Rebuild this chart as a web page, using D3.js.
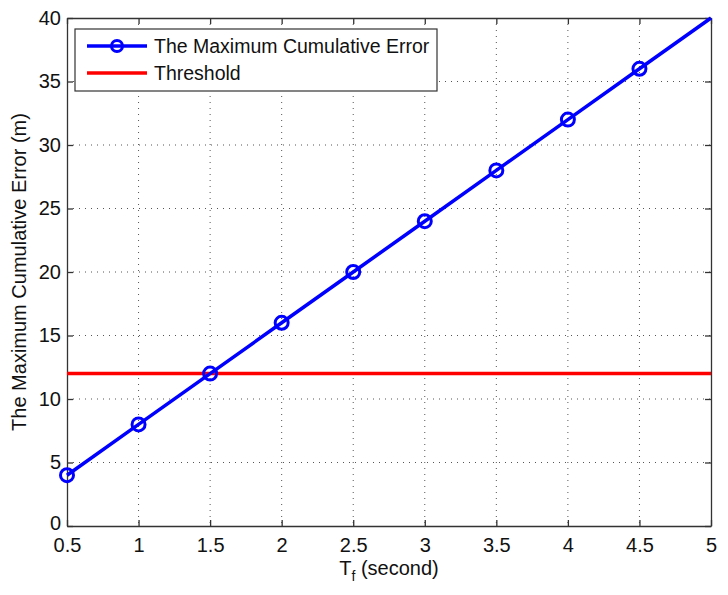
<!DOCTYPE html>
<html>
<head>
<meta charset="utf-8">
<script src="https://cdn.jsdelivr.net/npm/d3@7"></script>
<style>
body { margin: 0; background: #fff; }
text { font-family: "Liberation Sans", Arial, sans-serif; }
</style>
</head>
<body>
<script>
// data
const tf = [0.5, 1, 1.5, 2, 2.5, 3, 3.5, 4, 4.5, 5];
const maxError = [4, 8, 12, 16, 20, 24, 28, 32, 36, 40];
const threshold = 12;
const xTicks = [0.5, 1, 1.5, 2, 2.5, 3, 3.5, 4, 4.5, 5];
const yTicks = [0, 5, 10, 15, 20, 25, 30, 35, 40];
const seriesNames = ["The Maximum Cumulative Error", "Threshold"];

const w = 728, h = 595;
const margin = {top: 18, right: 17, bottom: 69, left: 67};
const width = w - margin.left - margin.right,
    height = h - margin.top - margin.bottom;
const fs = 20;

const svg = d3.select("body").append("svg")
    .attr("width", w)
    .attr("height", h);

const g = svg.append("g")
    .attr("transform", "translate(" + margin.left + "," + margin.top + ")");

const x = d3.scaleLinear().domain([0.5, 5]).range([0, width]);
const y = d3.scaleLinear().domain([0, 40]).range([height, 0]);

// grid
g.append("g").selectAll("line")
    .data(xTicks.slice(1, -1))
    .enter().append("line")
    .attr("x1", d => x(d)).attr("x2", d => x(d))
    .attr("y1", 0).attr("y2", height)
    .attr("stroke", "#555").attr("stroke-width", 1)
    .attr("stroke-dasharray", "1,5");

g.append("g").selectAll("line")
    .data(yTicks.slice(1, -1))
    .enter().append("line")
    .attr("y1", d => y(d)).attr("y2", d => y(d))
    .attr("x1", 0).attr("x2", width)
    .attr("stroke", "#555").attr("stroke-width", 1)
    .attr("stroke-dasharray", "1,5");

// axes (matlab style, ticks inward, all four sides)
function styleAxis(sel) {
    sel.select(".domain").attr("stroke", "#333").attr("stroke-width", 1.3);
    sel.selectAll(".tick line").attr("stroke", "#333").attr("stroke-width", 1.3);
    sel.selectAll("text").attr("font-size", fs).attr("fill", "#111")
        .attr("font-family", "Liberation Sans, Arial, sans-serif");
}

g.append("g")
    .attr("transform", "translate(0," + height + ")")
    .call(d3.axisBottom(x).tickValues(xTicks).tickFormat(d3.format("")).tickSizeInner(-6).tickSizeOuter(0).tickPadding(12))
    .call(styleAxis);

g.append("g")
    .call(d3.axisLeft(y).tickValues(yTicks).tickSizeInner(-6).tickSizeOuter(0).tickPadding(6))
    .call(styleAxis)
    .selectAll(".tick text")
    .attr("y", d => d === 0 ? -3 : 0);

g.append("g")
    .call(d3.axisTop(x).tickValues(xTicks).tickFormat("").tickSizeInner(-6).tickSizeOuter(0))
    .call(styleAxis);

g.append("g")
    .attr("transform", "translate(" + width + ",0)")
    .call(d3.axisRight(y).tickValues(yTicks).tickFormat("").tickSizeInner(-6).tickSizeOuter(0))
    .call(styleAxis);

// threshold
g.append("line")
    .attr("x1", x(0.5)).attr("x2", x(5))
    .attr("y1", y(threshold)).attr("y2", y(threshold))
    .attr("stroke", "#ff0000").attr("stroke-width", 3.5);

// error line
const pts = tf.map((d, i) => ({t: d, e: maxError[i]}));
g.append("path")
    .datum(pts)
    .attr("fill", "none")
    .attr("stroke", "#0000ff")
    .attr("stroke-width", 3.5)
    .attr("d", d3.line().x(d => x(d.t)).y(d => y(d.e)));

g.selectAll(".marker")
    .data(pts.slice(0, -1))
    .enter().append("circle")
    .attr("class", "marker")
    .attr("cx", d => x(d.t)).attr("cy", d => y(d.e))
    .attr("r", 6.5)
    .attr("fill", "none")
    .attr("stroke", "#0000ff")
    .attr("stroke-width", 3);

// legend
const lg = g.append("g").attr("transform", "translate(8,11)");
lg.append("rect")
    .attr("width", 362).attr("height", 62)
    .attr("fill", "#fff").attr("stroke", "#333").attr("stroke-width", 1.2);

lg.append("line").attr("x1", 12).attr("x2", 72).attr("y1", 17).attr("y2", 17)
    .attr("stroke", "#0000ff").attr("stroke-width", 3.5);
lg.append("circle").attr("cx", 42).attr("cy", 17).attr("r", 5.5)
    .attr("fill", "none").attr("stroke", "#0000ff").attr("stroke-width", 3);
lg.append("line").attr("x1", 12).attr("x2", 72).attr("y1", 44).attr("y2", 44)
    .attr("stroke", "#ff0000").attr("stroke-width", 3.5);

lg.selectAll(".ltext")
    .data(seriesNames)
    .enter().append("text")
    .attr("x", 79).attr("y", (d, i) => 17 + i * 27)
    .attr("dy", "0.35em")
    .attr("font-size", 19.5).attr("fill", "#111")
    .text(d => d);

// axis labels
const xl = svg.append("text")
    .attr("x", margin.left + width / 2)
    .attr("y", 575)
    .attr("text-anchor", "middle")
    .attr("font-size", fs).attr("fill", "#111");
xl.append("tspan").text("T");
xl.append("tspan").attr("font-size", 14).attr("dy", 6).text("f");
xl.append("tspan").attr("dy", -6).text(" (second)");

svg.append("text")
    .attr("transform", "translate(26," + (margin.top + height / 2) + ") rotate(-90)")
    .attr("text-anchor", "middle")
    .attr("font-size", fs).attr("fill", "#111")
    .text("The Maximum Cumulative Error (m)");
</script>
</body>
</html>
